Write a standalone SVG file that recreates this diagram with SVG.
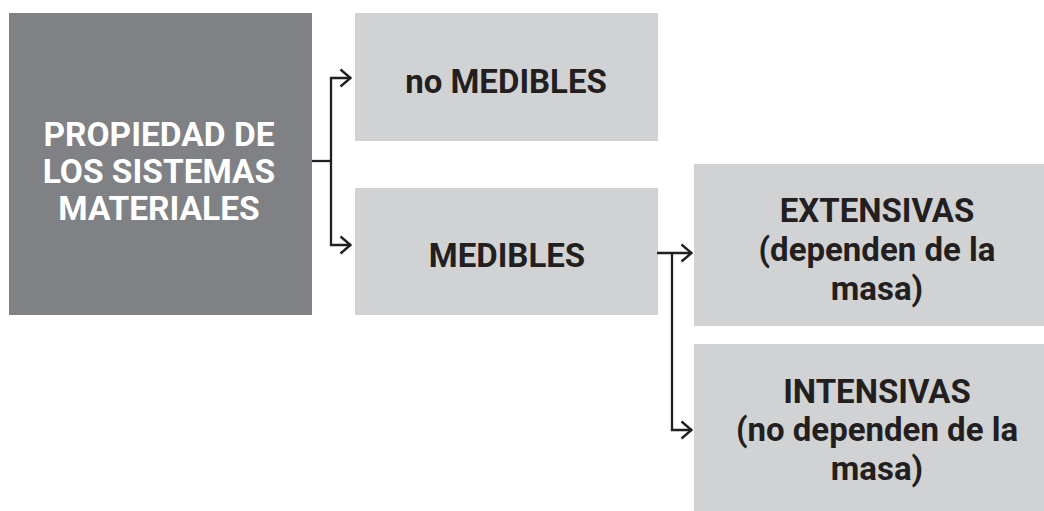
<svg xmlns="http://www.w3.org/2000/svg" width="1044" height="511" viewBox="0 0 1044 511">
  <defs>
    <marker id="chev" viewBox="0 0 13 20" refX="12" refY="10" markerWidth="13" markerHeight="20" markerUnits="userSpaceOnUse" orient="auto">
      <path d="M1.5,1.5 L11.5,10 L1.5,18.5" fill="none" stroke="#231f20" stroke-width="2.4"/>
    </marker>
  </defs>
  <style>
    .dark { fill: #808184; }
    .light { fill: #d1d2d4; }
    text { font-family: Roboto, "Liberation Sans", Arial, sans-serif; font-weight: bold; text-anchor: middle; }
    .w { fill: #ffffff; font-size: 33.5px; }
    .t { fill: #231f20; font-size: 33px; }
    .link { fill: none; stroke: #231f20; stroke-width: 2.3; }
  </style>
  <rect width="1044" height="511" fill="#ffffff"/>

  <g id="node-root">
    <rect class="dark" x="9" y="13" width="303" height="302"/>
    <text class="w" x="159" y="146">PROPIEDAD DE</text>
    <text class="w" x="159" y="183">LOS SISTEMAS</text>
    <text class="w" x="159" y="220">MATERIALES</text>
  </g>

  <g id="node-no-medibles">
    <rect class="light" x="355" y="13" width="303" height="128"/>
    <text class="t" x="506" y="93">no MEDIBLES</text>
  </g>

  <g id="node-medibles">
    <rect class="light" x="355" y="188" width="303" height="127"/>
    <text class="t" x="507" y="267">MEDIBLES</text>
  </g>

  <g id="node-extensivas">
    <rect class="light" x="694" y="164" width="360" height="162"/>
    <text class="t" x="877" y="222">EXTENSIVAS</text>
    <text class="t" x="877" y="261">(dependen de la</text>
    <text class="t" x="877" y="300">masa)</text>
  </g>

  <g id="node-intensivas">
    <rect class="light" x="694" y="344" width="360" height="170"/>
    <text class="t" x="877" y="403">INTENSIVAS</text>
    <text class="t" x="877" y="441">(no dependen de la</text>
    <text class="t" x="877" y="480">masa)</text>
  </g>

  <g id="connectors">
    <path class="link" d="M312,161 H331"/>
    <path class="link" d="M331,161 V78 H351" marker-end="url(#chev)"/>
    <path class="link" d="M331,161 V245 H351" marker-end="url(#chev)"/>
    <path class="link" d="M657,253 H692" marker-end="url(#chev)"/>
    <path class="link" d="M672,253 V430 H692" marker-end="url(#chev)"/>
  </g>
</svg>
